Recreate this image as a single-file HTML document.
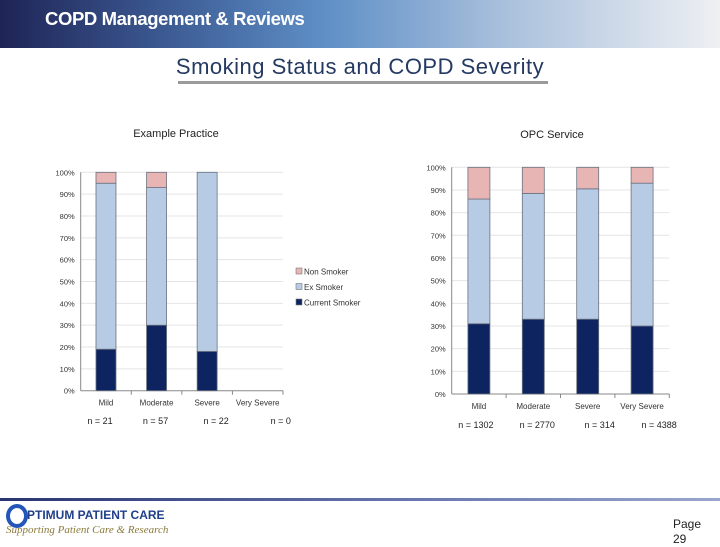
<!DOCTYPE html>
<html><head><meta charset="utf-8"><style>
body{margin:0;width:720px;height:540px;overflow:hidden;background:#fff;font-family:"Liberation Sans",sans-serif;position:relative}
.hdr{position:absolute;left:0;top:0;width:720px;height:48px;background:linear-gradient(90deg,#1e2456 0%,#3f5f98 25%,#5e8fc6 45%,#a9c0dc 70%,#eef0f3 100%)}
</style></head><body>
<div class="hdr"></div>
<div style="position:absolute;left:45px;top:8px;color:#fff;font-weight:bold;font-size:18.5px;letter-spacing:-0.4px">COPD Management &amp; Reviews</div>
<div style="position:absolute;left:0;width:720px;top:54px;text-align:center;color:#243a62;font-size:22px;letter-spacing:0.5px">Smoking Status and COPD Severity</div>
<div style="position:absolute;left:178px;top:81px;width:370px;height:3px;background:#9a9a9a"></div>
<svg width="720" height="540" style="position:absolute;left:0;top:0" id="svg"></svg>
<div style="position:absolute;left:0;top:498px;width:720px;height:3px;background:linear-gradient(90deg,#2a3470,#6a7ab0 60%,#9aa6cc)"></div>
<div style="position:absolute;left:6px;top:504px;width:14px;height:16px;border:4px solid #2356b8;border-radius:50%"></div>
<div style="position:absolute;left:27px;top:508px;color:#1f3f8a;font-weight:bold;font-size:12px">PTIMUM PATIENT CARE</div>
<div style="position:absolute;left:6px;top:524px;color:#8a7a3a;font-style:italic;font-family:'Liberation Serif',serif;font-size:11px">Supporting Patient Care &amp; Research</div>
<div style="position:absolute;left:673px;top:517px;font-size:12px;color:#222;line-height:15px">Page<br>29</div>
<script>
const cats=["Mild","Moderate","Severe","Very Severe"];
const leftCurrent=[19,30,18,0];
const leftEx=[76,63,82,0];
const leftNon=[5,7,0,0];
const leftN=["n = 21","n = 57","n = 22","n = 0"];
const rightCurrent=[31,33,33,30];
const rightEx=[55,55.5,57.5,63];
const rightNon=[14,11.5,9.5,7];
const rightN=["n =   1302","n =   2770","n =   314","n =   4388"];
const ticks=[0,10,20,30,40,50,60,70,80,90,100];
const svg=document.getElementById('svg');
const NS="http://www.w3.org/2000/svg";
function mk(t,a,txt){const e=document.createElementNS(NS,t);for(const k in a)e.setAttribute(k,a[k]);if(txt!==undefined)e.textContent=txt;svg.appendChild(e);return e;}
const cols=["#0d2461","#b7cbe4","#e8b5b5"];
function chart(o,cur,ex,non,ns,pref){
 const y=v=>o.y0-(o.y0-o.y100)*v/100;
 const cw=(o.x1-o.x0)/cats.length;
 ticks.forEach(t=>{
  const l=mk('line',{x1:o.x0,x2:o.x1,y1:y(t),y2:y(t),stroke:t?'#e4e4e4':'#888','stroke-width':1});
  
  
  const tx=mk('text',{x:o.x0-6,y:y(t)+3,'text-anchor':'end','font-size':7.5,fill:'#333'},t+'%');
  
  
 });
 const ax=mk('line',{x1:o.x0,x2:o.x0,y1:o.y100,y2:o.y0,stroke:'#888'});
 
 
 cats.forEach((c,i)=>{
  const cx=o.x0+cw*(i+0.5), bx=cx-o.bw/2;
  mk('line',{x1:o.x0+cw*(i+1),x2:o.x0+cw*(i+1),y1:o.y0,y2:o.y0+4,stroke:'#888'});
  let base=0;
  [[cur[i],0,'current'],[ex[i],1,'ex'],[non[i],2,'non']].forEach(([v,k,nm])=>{
   if(v<=0)return;
   const r=mk('rect',{x:bx,y:y(base+v),width:o.bw,height:y(base)-y(base+v),fill:cols[k],stroke:'#6b7280','stroke-width':0.8});
   
   
   base+=v;
  });
  const tl=mk('text',{x:cx,y:o.y0+15,'text-anchor':'middle','font-size':8,fill:'#333'},c);
  
  
  const nl=mk('text',{x:cx+o.nShift[i],y:o.nY,'text-anchor':'middle','font-size':9,fill:'#222','xml:space':'preserve'},ns[i]);
  
  
 });
 const tt=mk('text',{x:o.tx,y:o.ty,'text-anchor':'middle','font-size':11,fill:'#222'},o.title);
 
 
}
chart({x0:80.7,x1:283,y0:390.7,y100:172.3,bw:20,nY:424,title:"Example Practice",tx:176,ty:137,nShift:[-6,-1,9,23]},leftCurrent,leftEx,leftNon,leftN,'left-');
chart({x0:451.7,x1:669.3,y0:394,y100:167.3,bw:22,nY:428,title:"OPC Service",tx:552,ty:138,nShift:[-3,4,12,17]},rightCurrent,rightEx,rightNon,rightN,'right-');
const leg=[["Non Smoker",2],["Ex Smoker",1],["Current Smoker",0]];
leg.forEach((l,i)=>{
 const yy=272+i*15.5;
 const r=mk('rect',{x:296,y:yy-4,width:6,height:6,fill:cols[l[1]],stroke:'#777','stroke-width':0.6});
 
 
 const t=mk('text',{x:304,y:yy+2.5,'font-size':8,fill:'#333'},l[0]);
 
 
});
</script>
</body></html>
